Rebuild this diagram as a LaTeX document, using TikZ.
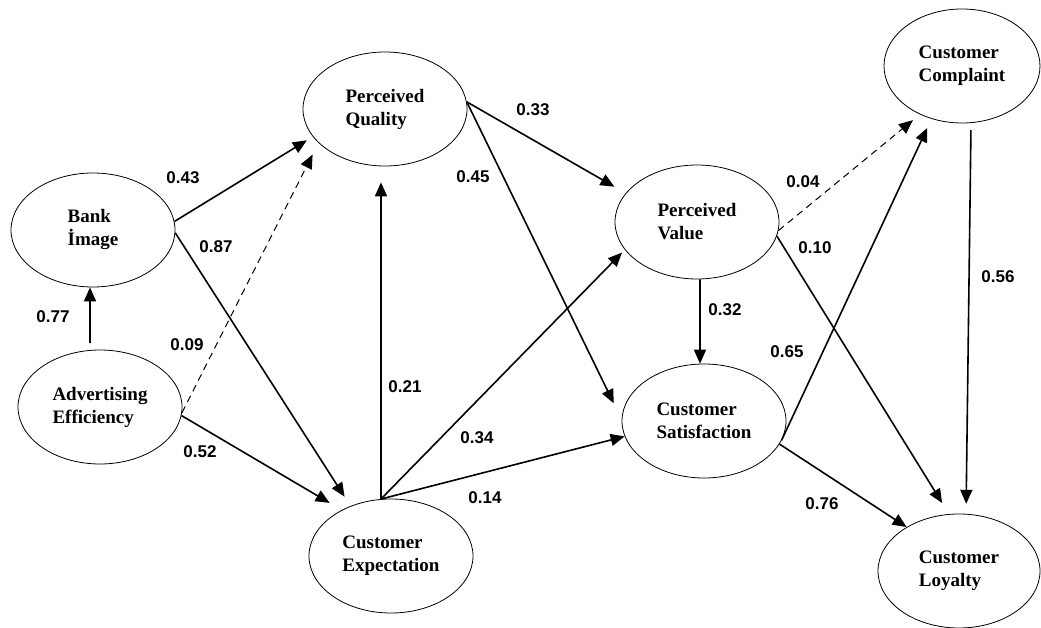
\documentclass[tikz,border=0pt]{standalone}
\usepackage{fontspec}
\setmainfont{Liberation Serif}
\newfontfamily\coeffont{Liberation Sans}
\usetikzlibrary{shapes.geometric,arrows.meta}

\begin{document}
\begin{tikzpicture}[x=1pt, y=-1pt,
        construct/.style={ellipse, draw, line width=0.8pt, minimum width=164pt, minimum height=114pt, inner sep=0pt, align=left, font=\fontsize{19}{23}\selectfont\bfseries},
        effect/.style={line width=1.6pt, -{Triangle[length=14pt,width=12pt]}},
        weak_effect/.style={line width=1pt, dash pattern=on 7pt off 5pt, -{Triangle[length=14pt,width=12pt]}},
        coef/.style={font=\coeffont\fontsize{17}{20}\selectfont\bfseries, inner sep=0pt},]

        \useasboundingbox (0,0) rectangle (1041,628);

        % Constructs
        \node[construct] (bi) at (93,230)  {Bank\\İmage};
        \node[construct] (ae) at (100,407) {Advertising\\Efficiency};
        \node[construct] (pq) at (385,109) {Perceived\\Quality};
        \node[construct] (ce) at (391,556) {Customer\\Expectation};
        \node[construct] (pv) at (697,222) {Perceived\\Value};
        \node[construct] (cs) at (704,421) {Customer\\Satisfaction};
        \node[construct, minimum width=156pt] (cc) at (962,66)  {Customer\\Complaint};
        \node[construct, minimum width=162pt] (cl) at (959,571) {Customer\\Loyalty};

        %Paths
        \draw[effect, shorten <=7pt] (ae.100) -- (bi.267);
        \draw[effect, shorten >=7pt] (bi.6) -- (pq.201);
        \draw[effect, shorten >=11pt] (bi.-2) -- (ce.129);
        \draw[weak_effect, shorten >=13pt] (ae.-4) -- (pq.207);
        \draw[effect, shorten >=14pt] (ae.-6) -- (ce.137);
        \draw[effect, shorten >=16pt] (ce.100) -- (pq.266);
        \draw[effect, shorten >=4pt] (ce.100) -- (pv.201);
        \draw[effect] (ce.100) -- (cs.191);
        \draw[effect, shorten >=13pt] (pq.5) -- (pv.158);
        \draw[effect, shorten >=18pt] (pq.5) -- (cs.179);
        \draw[effect] (pv.273) -- (cs.94);
        \draw[weak_effect, shorten >=9pt] (pv.-6) -- (cc.229);
        \draw[effect, shorten >=13pt] (pv.-10) -- (cl.100);
        \draw[effect, shorten >=10pt] (cs.-14) -- (cc.240);
        \draw[effect] (cs.-17) -- (cl.140);
        \draw[effect, shorten <=7pt, shorten >=10pt] (cc.-81) -- (cl.83);

        % Path coefficients
        \node[coef] (ae_bi) at (53,317)  {0.77};
        \node[coef] (bi_pq) at (183,178) {0.43};
        \node[coef] (bi_ce) at (216,247) {0.87};
        \node[coef] (ae_pq) at (187,345) {0.09};
        \node[coef] (ae_ce) at (200,452) {0.52};
        \node[coef] (pq_pv) at (533,110) {0.33};
        \node[coef] (pq_cs) at (473,177) {0.45};
        \node[coef] (ce_pq) at (405,387) {0.21};
        \node[coef] (ce_pv) at (477,438) {0.34};
        \node[coef] (ce_cs) at (485,498) {0.14};
        \node[coef] (pv_cs) at (725,310) {0.32};
        \node[coef] (pv_cc) at (803,182) {0.04};
        \node[coef] (pv_cl) at (815,248) {0.10};
        \node[coef] (cs_cc) at (787,352) {0.65};
        \node[coef] (cc_cl) at (998,277) {0.56};
        \node[coef] (cs_cl) at (822,504) {0.76};
    \end{tikzpicture}
\end{document}
